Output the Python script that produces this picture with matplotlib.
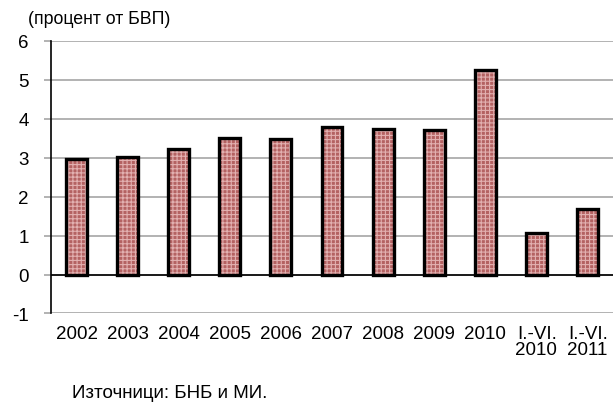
import matplotlib
matplotlib.use("Agg")
import matplotlib.pyplot as plt

categories = ["2002", "2003", "2004", "2005", "2006", "2007", "2008", "2009", "2010",
              "I.-VI.\n2010", "I.-VI.\n2011"]
values = [2.96, 3.01, 3.22, 3.51, 3.47, 3.80, 3.74, 3.71, 5.26, 1.07, 1.68]
yticks = [-1, 0, 1, 2, 3, 4, 5, 6]

plt.rcParams['font.family'] = ['Liberation Sans', 'DejaVu Sans']
plt.rcParams['hatch.linewidth'] = 0.8

fig = plt.figure(figsize=(6.13, 4.10), dpi=100)
ax = fig.add_axes([0.0832, 0.233, 0.9168, 0.6646])

x = list(range(len(categories)))
ax.bar(x, values, width=0.41, color='#b46262', edgecolor='#e2b0b0', hatch='++++',
       linewidth=0, zorder=3)
ax.bar(x, values, width=0.41, fill=False, edgecolor='black', linewidth=2.4, zorder=4)

ax.set_xlim(-0.5, 10.5)
ax.set_ylim(-1, 6)
ax.set_yticks(yticks)
ax.set_yticklabels([str(t) for t in yticks], fontsize=13.5)
ax.yaxis.grid(True, color='#a6a6a6', linewidth=1.2, zorder=0)
ax.axhline(0, color='black', linewidth=1.2, zorder=5)
ax.tick_params(axis='y', length=5, color='#a6a6a6', width=1.2, pad=11)
ax.tick_params(axis='x', length=0, pad=8)
ax.set_xticks(x)
ax.set_xticklabels(categories, fontsize=13.5, multialignment='right', linespacing=0.92)
for lab in ax.get_xticklabels():
    lab.set_verticalalignment('top')

for s in ['top', 'right', 'bottom']:
    ax.spines[s].set_visible(False)
ax.spines['left'].set_color('black')
ax.spines['left'].set_linewidth(1.2)
ax.set_axisbelow(True)

fig.text(28 / 613, 1 - 20 / 410, "(процент от БВП)", fontsize=12.8, va='center', ha='left')
fig.text(72 / 613, 1 - 394 / 410, "Източници: БНБ и МИ.", fontsize=13.5, va='center', ha='left')

fig.savefig("out.png", dpi=100)
